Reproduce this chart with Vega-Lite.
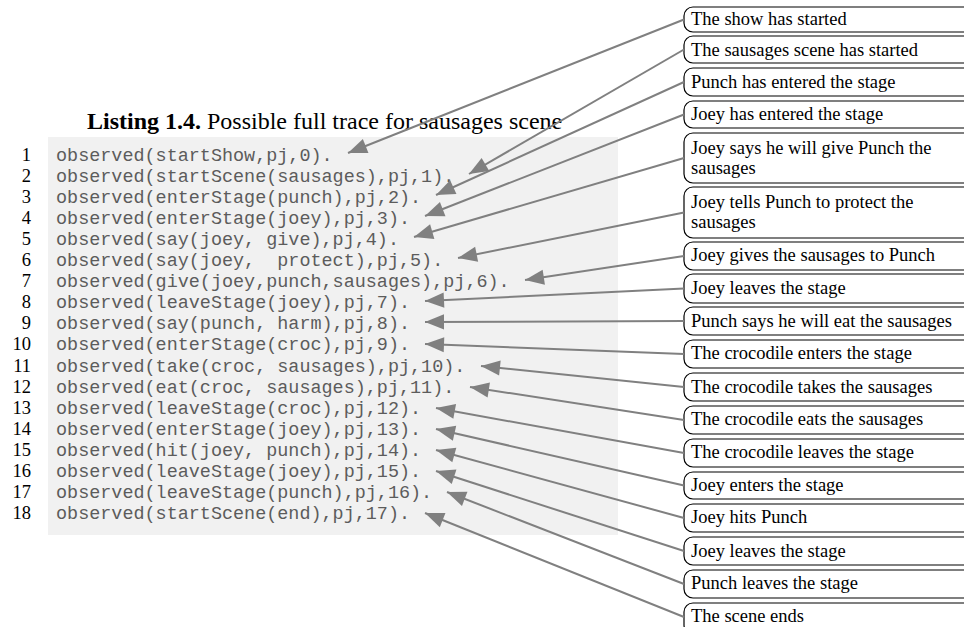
{
  "$schema": "https://vega.github.io/schema/vega-lite/v6.json",
  "width": 964,
  "height": 627,
  "autosize": {"type": "none"},
  "padding": 0,
  "background": "white",
  "config": {"view": {"stroke": null}},
  "datasets": {
    "panel": [{"x": 48, "x2": 618, "y": 137, "y2": 535}],
    "title": [{"part": "bold", "t": "Listing 1.4.", "x": 87, "y": 122}, {"part": "regular", "t": "Possible full trace for sausages scene", "x": 207, "y": 122}],
    "rows": [
      {"n": 1, "code": "observed(startShow,pj,0).", "xn": 31, "xc": 56, "y": 155},
      {"n": 2, "code": "observed(startScene(sausages),pj,1).", "xn": 31, "xc": 56, "y": 176},
      {"n": 3, "code": "observed(enterStage(punch),pj,2).", "xn": 31, "xc": 56, "y": 197},
      {"n": 4, "code": "observed(enterStage(joey),pj,3).", "xn": 31, "xc": 56, "y": 218},
      {"n": 5, "code": "observed(say(joey, give),pj,4).", "xn": 31, "xc": 56, "y": 239},
      {"n": 6, "code": "observed(say(joey, \u00a0protect),pj,5).", "xn": 31, "xc": 56, "y": 260},
      {"n": 7, "code": "observed(give(joey,punch,sausages),pj,6).", "xn": 31, "xc": 56, "y": 281},
      {"n": 8, "code": "observed(leaveStage(joey),pj,7).", "xn": 31, "xc": 56, "y": 302},
      {"n": 9, "code": "observed(say(punch, harm),pj,8).", "xn": 31, "xc": 56, "y": 323},
      {"n": 10, "code": "observed(enterStage(croc),pj,9).", "xn": 31, "xc": 56, "y": 344},
      {"n": 11, "code": "observed(take(croc, sausages),pj,10).", "xn": 31, "xc": 56, "y": 366},
      {"n": 12, "code": "observed(eat(croc, sausages),pj,11).", "xn": 31, "xc": 56, "y": 387},
      {"n": 13, "code": "observed(leaveStage(croc),pj,12).", "xn": 31, "xc": 56, "y": 408},
      {"n": 14, "code": "observed(enterStage(joey),pj,13).", "xn": 31, "xc": 56, "y": 429},
      {"n": 15, "code": "observed(hit(joey, punch),pj,14).", "xn": 31, "xc": 56, "y": 450},
      {"n": 16, "code": "observed(leaveStage(joey),pj,15).", "xn": 31, "xc": 56, "y": 471},
      {"n": 17, "code": "observed(leaveStage(punch),pj,16).", "xn": 31, "xc": 56, "y": 492},
      {"n": 18, "code": "observed(startScene(end),pj,17).", "xn": 31, "xc": 56, "y": 513}
    ],
    "boxes": [
      {"id": 1, "x": 684, "x2": 990, "top": 7, "bottom": 32},
      {"id": 2, "x": 684, "x2": 990, "top": 36, "bottom": 63},
      {"id": 3, "x": 684, "x2": 990, "top": 68, "bottom": 96},
      {"id": 4, "x": 684, "x2": 990, "top": 101, "bottom": 128},
      {"id": 5, "x": 684, "x2": 990, "top": 133, "bottom": 183},
      {"id": 6, "x": 684, "x2": 990, "top": 187, "bottom": 238},
      {"id": 7, "x": 684, "x2": 990, "top": 242, "bottom": 270},
      {"id": 8, "x": 684, "x2": 990, "top": 274, "bottom": 303},
      {"id": 9, "x": 684, "x2": 990, "top": 307, "bottom": 335},
      {"id": 10, "x": 684, "x2": 990, "top": 340, "bottom": 368},
      {"id": 11, "x": 684, "x2": 990, "top": 373, "bottom": 401},
      {"id": 12, "x": 684, "x2": 990, "top": 406, "bottom": 434},
      {"id": 13, "x": 684, "x2": 990, "top": 439, "bottom": 467},
      {"id": 14, "x": 684, "x2": 990, "top": 472, "bottom": 499},
      {"id": 15, "x": 684, "x2": 990, "top": 504, "bottom": 532},
      {"id": 16, "x": 684, "x2": 990, "top": 537, "bottom": 565},
      {"id": 17, "x": 684, "x2": 990, "top": 570, "bottom": 598},
      {"id": 18, "x": 684, "x2": 990, "top": 603, "bottom": 634}
    ],
    "labels": [
      {"t": "The show has started", "x": 691, "y": 19},
      {"t": "The sausages scene has started", "x": 691, "y": 50},
      {"t": "Punch has entered the stage", "x": 691, "y": 82},
      {"t": "Joey has entered the stage", "x": 691, "y": 114},
      {"t": "Joey says he will give Punch the", "x": 691, "y": 148},
      {"t": "sausages", "x": 691, "y": 168},
      {"t": "Joey tells Punch to protect the", "x": 691, "y": 202},
      {"t": "sausages", "x": 691, "y": 222},
      {"t": "Joey gives the sausages to Punch", "x": 691, "y": 255},
      {"t": "Joey leaves the stage", "x": 691, "y": 288},
      {"t": "Punch says he will eat the sausages", "x": 691, "y": 321},
      {"t": "The crocodile enters the stage", "x": 691, "y": 353},
      {"t": "The crocodile takes the sausages", "x": 691, "y": 387},
      {"t": "The crocodile eats the sausages", "x": 691, "y": 419},
      {"t": "The crocodile leaves the stage", "x": 691, "y": 452},
      {"t": "Joey enters the stage", "x": 691, "y": 485},
      {"t": "Joey hits Punch", "x": 691, "y": 517},
      {"t": "Joey leaves the stage", "x": 691, "y": 551},
      {"t": "Punch leaves the stage", "x": 691, "y": 583},
      {"t": "The scene ends", "x": 691, "y": 616}
    ],
    "arrows": [
      {"id": 1, "sx": 684, "sy": 19.5, "tx": 348, "ty": 153},
      {"id": 2, "sx": 684, "sy": 49.5, "tx": 469, "ty": 174},
      {"id": 3, "sx": 684, "sy": 82, "tx": 436, "ty": 195},
      {"id": 4, "sx": 684, "sy": 114.5, "tx": 425, "ty": 216},
      {"id": 5, "sx": 684, "sy": 158, "tx": 414, "ty": 237},
      {"id": 6, "sx": 684, "sy": 212.5, "tx": 458, "ty": 258},
      {"id": 7, "sx": 684, "sy": 256, "tx": 525, "ty": 280},
      {"id": 8, "sx": 684, "sy": 288.5, "tx": 425, "ty": 301},
      {"id": 9, "sx": 684, "sy": 321, "tx": 425, "ty": 322},
      {"id": 10, "sx": 684, "sy": 354, "tx": 425, "ty": 344},
      {"id": 11, "sx": 684, "sy": 387, "tx": 481, "ty": 366},
      {"id": 12, "sx": 684, "sy": 420, "tx": 470, "ty": 387},
      {"id": 13, "sx": 684, "sy": 453, "tx": 436, "ty": 408},
      {"id": 14, "sx": 684, "sy": 485.5, "tx": 436, "ty": 429},
      {"id": 15, "sx": 684, "sy": 518, "tx": 436, "ty": 450},
      {"id": 16, "sx": 684, "sy": 551, "tx": 436, "ty": 471},
      {"id": 17, "sx": 684, "sy": 584, "tx": 447, "ty": 492},
      {"id": 18, "sx": 684, "sy": 617, "tx": 425, "ty": 513}
    ]
  },
  "layer": [
    {
      "data": {"name": "panel"},
      "mark": {"type": "rect", "fill": "#f1f1f1", "stroke": null},
      "encoding": {
        "x": {"field": "x", "type": "quantitative", "scale": {"domain": [0, 964], "nice": false, "zero": false}, "axis": null},
        "x2": {"field": "x2"},
        "y": {"field": "y", "type": "quantitative", "scale": {"domain": [627, 0], "nice": false, "zero": false}, "axis": null},
        "y2": {"field": "y2"}
      }
    },
    {
      "data": {"name": "title"},
      "transform": [{"filter": "datum.part === 'bold'"}],
      "mark": {"type": "text", "align": "left", "baseline": "middle", "font": "Liberation Serif", "fontSize": 24, "fontWeight": "bold", "color": "#000000"},
      "encoding": {
        "x": {"field": "x", "type": "quantitative"},
        "y": {"field": "y", "type": "quantitative"},
        "text": {"field": "t"}
      }
    },
    {
      "data": {"name": "title"},
      "transform": [{"filter": "datum.part === 'regular'"}],
      "mark": {"type": "text", "align": "left", "baseline": "middle", "font": "Liberation Serif", "fontSize": 24, "color": "#000000"},
      "encoding": {
        "x": {"field": "x", "type": "quantitative"},
        "y": {"field": "y", "type": "quantitative"},
        "text": {"field": "t"}
      }
    },
    {
      "data": {"name": "rows"},
      "mark": {"type": "text", "align": "right", "baseline": "middle", "font": "Liberation Serif", "fontSize": 18.5, "color": "#000000"},
      "encoding": {
        "x": {"field": "xn", "type": "quantitative"},
        "y": {"field": "y", "type": "quantitative"},
        "text": {"field": "n"}
      }
    },
    {
      "data": {"name": "rows"},
      "mark": {"type": "text", "align": "left", "baseline": "middle", "font": "Liberation Mono", "fontSize": 18.45, "color": "#5c5c5c"},
      "encoding": {
        "x": {"field": "xc", "type": "quantitative"},
        "y": {"field": "y", "type": "quantitative"},
        "text": {"field": "code"}
      }
    },
    {
      "data": {"name": "boxes"},
      "mark": {"type": "rect", "fill": "#ffffff", "stroke": "#000000", "strokeWidth": 1.2, "cornerRadius": 9},
      "encoding": {
        "x": {"field": "x", "type": "quantitative"},
        "x2": {"field": "x2"},
        "y": {"field": "top", "type": "quantitative"},
        "y2": {"field": "bottom"}
      }
    },
    {
      "data": {"name": "labels"},
      "mark": {"type": "text", "align": "left", "baseline": "middle", "font": "Liberation Serif", "fontSize": 18.5, "color": "#000000"},
      "encoding": {
        "x": {"field": "x", "type": "quantitative"},
        "y": {"field": "y", "type": "quantitative"},
        "text": {"field": "t"}
      }
    },
    {
      "data": {"name": "arrows"},
      "mark": {"type": "rule", "color": "#808080", "strokeWidth": 2},
      "encoding": {
        "x": {"field": "sx", "type": "quantitative"},
        "y": {"field": "sy", "type": "quantitative"},
        "x2": {"field": "tx"},
        "y2": {"field": "ty"}
      }
    },
    {
      "data": {"name": "arrows"},
      "transform": [{"calculate": "atan2(datum.tx - datum.sx, datum.ty - datum.sy) * -180 / PI + 180", "as": "ang"}],
      "mark": {"type": "point", "shape": "M0,0L-0.8,2L0.8,2Z", "filled": true, "opacity": 1, "color": "#808080", "size": 361, "strokeWidth": 0},
      "encoding": {
        "x": {"field": "tx", "type": "quantitative"},
        "y": {"field": "ty", "type": "quantitative"},
        "angle": {"field": "ang", "type": "quantitative", "scale": null}
      }
    }
  ]
}
